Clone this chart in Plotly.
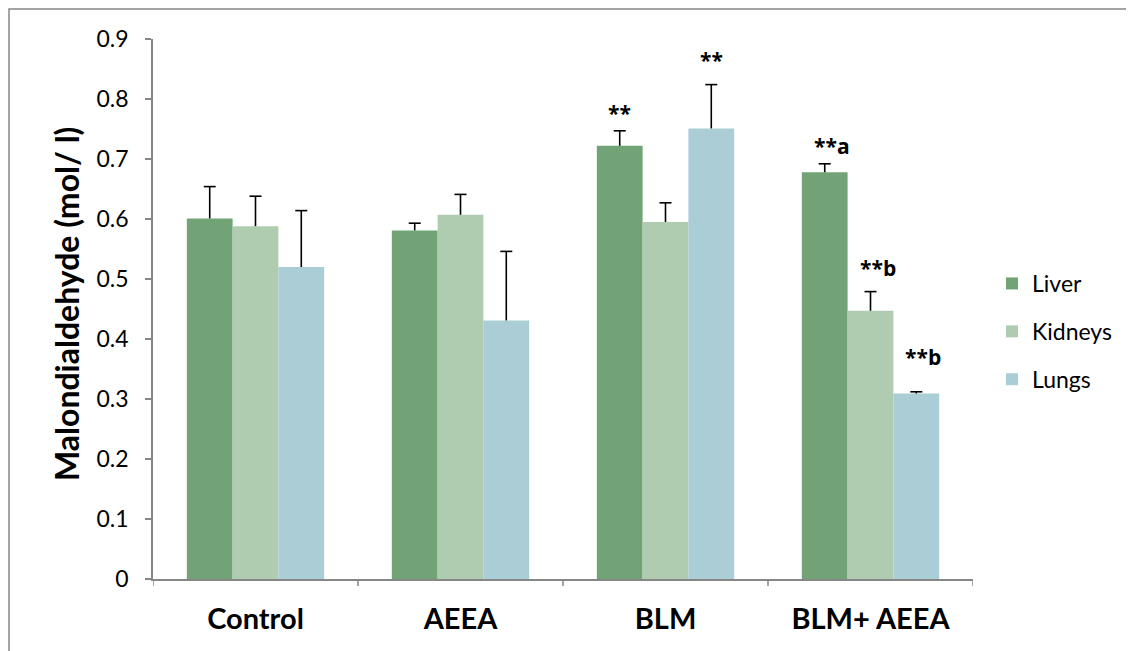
import plotly.graph_objects as go

categories = ["Control", "AEEA", "BLM", "BLM+ AEEA"]
series_names = ["Liver", "Kidneys", "Lungs"]
liver = [0.601, 0.581, 0.722, 0.678]
liver_err = [0.053, 0.012, 0.025, 0.014]
kidneys = [0.588, 0.607, 0.595, 0.447]
kidneys_err = [0.050, 0.034, 0.032, 0.032]
lungs = [0.520, 0.431, 0.751, 0.309]
lungs_err = [0.094, 0.115, 0.073, 0.003]
# significance labels: (series index, category index, text, y value)
sig_labels = [
    (0, 2, "**", 0.777),
    (2, 2, "**", 0.865),
    (0, 3, "**a", 0.722),
    (1, 3, "**b", 0.518),
    (2, 3, "**b", 0.370),
]
y_ticks = [0, 0.1, 0.2, 0.3, 0.4, 0.5, 0.6, 0.7, 0.8, 0.9]
y_tick_text = ["0", "0.1", "0.2", "0.3", "0.4", "0.5", "0.6", "0.7", "0.8", "0.9"]
y_title = "Malondialdehyde (mol/ l)"

colors = ["#72A376", "#B0CCB0", "#AACDD6"]
values = [liver, kidneys, lungs]
errors = [liver_err, kidneys_err, lungs_err]
FONT = "Lato, Open Sans, sans-serif"
AXIS_GREY = "#868686"
bargap = 0.33

W, H = 1134, 651
OFF = 8  # page offset of the figure
ml, mr, mt, mb = 153 - OFF, 161 + OFF, 39 - OFF, 72 + OFF
pw, ph = W - ml - mr, H - mt - mb

fig = go.Figure()
for i, (name, vals) in enumerate(zip(series_names, values)):
    fig.add_trace(go.Bar(
        x=list(range(len(categories))), y=vals, name=name,
        marker=dict(color=colors[i], line=dict(width=0)),
        legendgroup=name,
    ))

bar_w = (1 - bargap) / len(series_names)
cap = 6 / (pw / len(categories))
ex, ey = [], []
for s, (vals, errs) in enumerate(zip(values, errors)):
    for c, (v, e) in enumerate(zip(vals, errs)):
        xc = c + (s - 1) * bar_w
        ex += [xc, xc, None, xc - cap, xc + cap, None]
        ey += [v, v + e, None, v + e, v + e, None]
fig.add_trace(go.Scatter(x=ex, y=ey, mode="lines", line=dict(color="black", width=1.6),
                         showlegend=False, hoverinfo="skip"))

for s, c, txt, yv in sig_labels:
    xpos = c + (s - 1) * bar_w
    xshift = 0 if len(txt) == 2 else 7
    fig.add_annotation(x=xpos, y=yv, text=txt, showarrow=False, xref="x", yref="y",
                       xshift=xshift,
                       font=dict(family="Open Sans, sans-serif", size=21, color="black", weight="bold"))

# y axis title
fig.add_annotation(x=(66 - 153) / pw, y=(579 - 304) / ph, xref="paper", yref="paper",
                   text=y_title, textangle=-90, showarrow=False,
                   xanchor="center", yanchor="middle",
                   font=dict(family=FONT, size=32, color="black", weight="bold"))

# outer chart frame
fig.add_shape(type="rect", xref="paper", yref="paper",
              x0=(9 - OFF - ml) / pw, x1=(W + 10 - ml) / pw,
              y0=-(mb + 10) / ph, y1=(H - mb - (9 - OFF)) / ph,
              line=dict(color=AXIS_GREY, width=1.5), fillcolor="rgba(0,0,0,0)", layer="below")

fig.update_layout(
    width=W, height=H,
    margin=dict(l=ml, r=mr, t=mt, b=mb),
    paper_bgcolor="white", plot_bgcolor="white",
    barmode="group", bargap=bargap, bargroupgap=0,
    font=dict(family=FONT, color="black"),
    legend=dict(x=(1005 - 153 - 13) / pw, y=(579 - 262) / ph, xanchor="left", yanchor="top",
                font=dict(family=FONT, size=23, color="black"),
                tracegroupgap=15, itemwidth=30, bgcolor="rgba(0,0,0,0)"),
    showlegend=True,
)
fig.update_xaxes(
    tickmode="array", tickvals=list(range(len(categories))), ticktext=categories,
    range=[-0.5, len(categories) - 0.5],
    showline=True, linecolor=AXIS_GREY, linewidth=1.5,
    ticks="", showgrid=False, zeroline=False, automargin=False,
    tickfont=dict(family=FONT, size=29, color="black", weight="bold"),
    ticklabelstandoff=13,
)
fig.update_yaxes(
    range=[0, 0.9], tickmode="array", tickvals=y_ticks, ticktext=y_tick_text,
    showline=True, linecolor=AXIS_GREY, linewidth=1.5,
    ticks="outside", ticklen=6, tickcolor=AXIS_GREY, tickwidth=1.5,
    showgrid=False, zeroline=False, automargin=False,
    tickfont=dict(family=FONT, size=23, color="black"),
    ticklabelstandoff=12,
)

# category boundary ticks on the x axis
for b in range(len(categories) + 1):
    fig.add_shape(type="line", xref="x", yref="paper", x0=b - 0.5, x1=b - 0.5,
                  y0=0, y1=-7 / ph, line=dict(color=AXIS_GREY, width=1.5))

fig.write_html("out.html")
